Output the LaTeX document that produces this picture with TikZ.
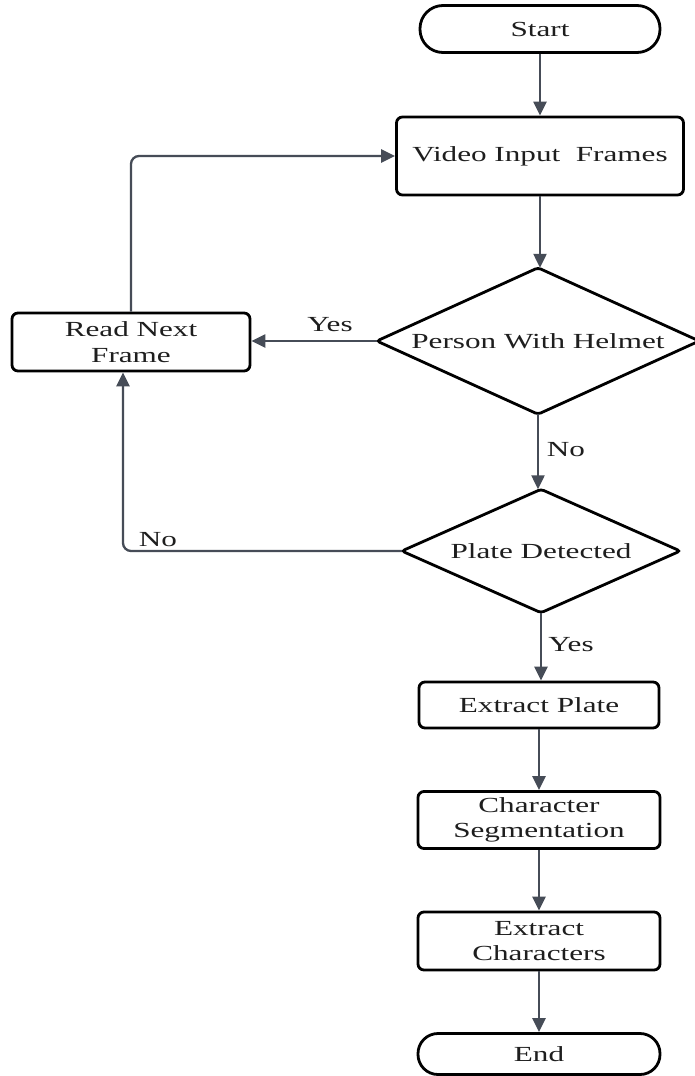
\documentclass[tikz,border=0pt]{standalone}
\usepackage{fontspec}
\setmainfont{Liberation Serif}[FakeStretch=1.45]
\usetikzlibrary{arrows.meta}
\definecolor{flowline}{HTML}{464C57}
\definecolor{flowtext}{HTML}{1E1E1E}
\begin{document}
\begin{tikzpicture}[x=1pt,y=-1pt,
  every node/.style={font=\fontsize{21.5}{25.5}\selectfont, text=flowtext},
  procbox/.style={draw=black, line width=2.8pt, rounded corners=6pt, fill=white,
    inner sep=0pt, align=center},
  termbox/.style={procbox, rounded corners=#1},
  decbox/.style={inner sep=0pt},
  decline/.style={draw=black, line width=2.8pt, rounded corners=3pt},
  flow/.style={draw=flowline, line width=2.3pt,
    -{Triangle[length=14pt,width=13pt]}},
  flowlabel/.style={inner sep=0pt}
]
\fill[white] (0,0) rectangle (694,1076);
\useasboundingbox (0,0) rectangle (694,1076);

% terminals and process steps
\node[termbox=23pt, minimum width=240pt, minimum height=47pt] (start) at (540,29) {Start};
\node[procbox, minimum width=287pt, minimum height=78pt] (video) at (540,156) {Video Input~~Frames};
\node[procbox, minimum width=238pt, minimum height=58pt] (read) at (131,342) {Read Next\\Frame};
\node[procbox, minimum width=240pt, minimum height=46pt] (plate) at (539,705) {Extract Plate};
\node[procbox, minimum width=242pt, minimum height=57pt] (seg) at (539,820) {Character\\Segmentation};
\node[procbox, minimum width=242pt, minimum height=58pt] (chars) at (539,941) {Extract\\Characters};
\node[termbox=20pt, minimum width=242pt, minimum height=41pt] (end) at (539,1054) {End};

% decisions: diamonds drawn through the anchors of a plain node
\node[decbox, minimum width=322pt, minimum height=146pt] (helmet) at (538,341) {Person With Helmet};
\draw[decline] (helmet.north) -- (helmet.east) -- (helmet.south) -- (helmet.west) -- cycle;
\node[decbox, minimum width=278pt, minimum height=123pt] (detect) at (541,551) {Plate Detected};
\draw[decline] (detect.north) -- (detect.east) -- (detect.south) -- (detect.west) -- cycle;

% main flow
\draw[flow] (start.south) -- (start.south |- video.north);
\draw[flow] (video.south) -- (video.south |- helmet.north);
\draw[flow] (helmet.west) -- (read.east |- helmet.west);
\draw[flow] (helmet.south) -- (helmet.south |- detect.north);
\draw[flow] (detect.south) -- (detect.south |- plate.north);
\draw[flow] (plate.south) -- (plate.south |- seg.north);
\draw[flow] (seg.south) -- (seg.south |- chars.north);
\draw[flow] (chars.south) -- (chars.south |- end.north);

% loops back to reading the next frame
\draw[flow, rounded corners=8pt] (read.north) |- (video.west);
\coordinate (retx) at ([xshift=-8pt]read.south);
\draw[flow, rounded corners=8pt] (detect.west) -| (retx);

% branch labels
\node[flowlabel] (yes1) at (330,325) {Yes};
\node[flowlabel] (no1) at (566,450) {No};
\node[flowlabel] (no2) at (158,540) {No};
\node[flowlabel] (yes2) at (571,645) {Yes};
\end{tikzpicture}
\end{document}
